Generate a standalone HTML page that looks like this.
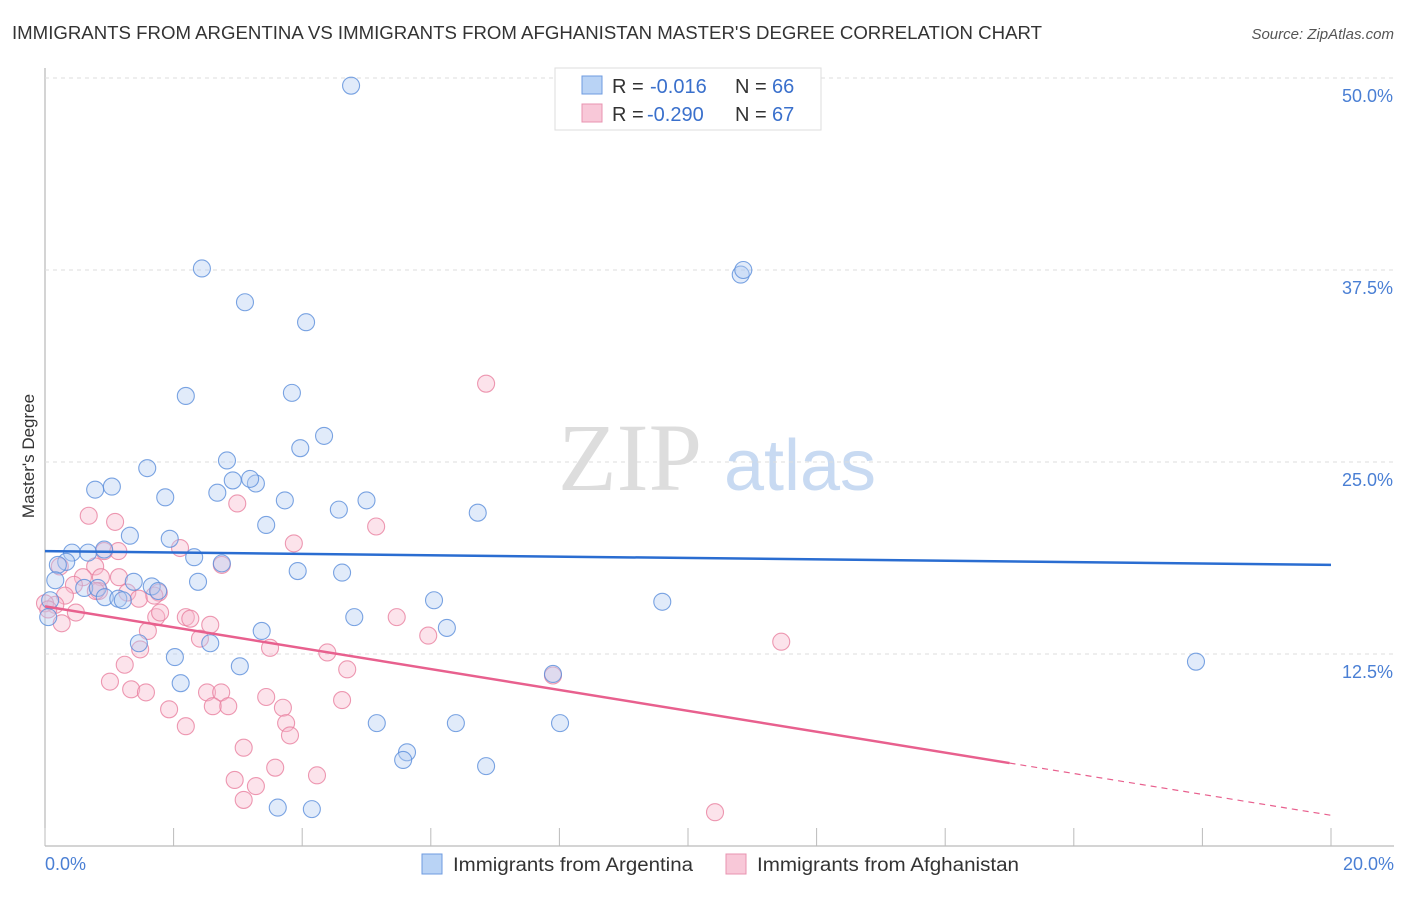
<!DOCTYPE html>
<html><head><meta charset="utf-8"><style>
body{margin:0;background:#fff;font-family:"Liberation Sans",sans-serif}
</style></head><body>
<svg id="c" width="1406" height="892" xmlns="http://www.w3.org/2000/svg" style="font-family:'Liberation Sans',sans-serif">
<text x="12" y="39" font-size="18" fill="#333" textLength="1030" lengthAdjust="spacingAndGlyphs">IMMIGRANTS FROM ARGENTINA VS IMMIGRANTS FROM AFGHANISTAN MASTER'S DEGREE CORRELATION CHART</text>
<text x="1394" y="39" font-size="15" fill="#555" font-style="italic" text-anchor="end">Source: ZipAtlas.com</text>
<text x="630" y="490" font-size="96" fill="#ddd" font-family="Liberation Serif" text-anchor="middle">ZIP</text>
<text x="800" y="490" font-size="72" fill="#c8daf2" text-anchor="middle">atlas</text>
<text x="34" y="456" font-size="17" fill="#333" transform="rotate(-90 34 456)" text-anchor="middle">Master's Degree</text>
<g id="grid"></g><g id="pts"></g><g id="lines"></g>
<g>
<rect x="555" y="68" width="266" height="62" fill="#fff" stroke="#ddd"/>
<rect x="582" y="76" width="20" height="18" fill="#b9d3f5" stroke="#6e9be0"/>
<rect x="582" y="104" width="20" height="18" fill="#f8c8d8" stroke="#e893b0"/>
<text x="612" y="93" font-size="20" fill="#333">R =</text>
<text x="650" y="93" font-size="20" fill="#3a70cc">-0.016</text>
<text x="735" y="93" font-size="20" fill="#333">N =</text>
<text x="772" y="93" font-size="20" fill="#3a70cc">66</text>
<text x="612" y="121" font-size="20" fill="#333">R =</text>
<text x="647" y="121" font-size="20" fill="#3a70cc">-0.290</text>
<text x="735" y="121" font-size="20" fill="#333">N =</text>
<text x="772" y="121" font-size="20" fill="#3a70cc">67</text>
</g>
<g>
<rect x="422" y="854" width="20" height="20" fill="#b9d3f5" stroke="#6e9be0"/>
<text x="453" y="871" font-size="19" fill="#333" textLength="240" lengthAdjust="spacingAndGlyphs">Immigrants from Argentina</text>
<rect x="726" y="854" width="20" height="20" fill="#f8c8d8" stroke="#e893b0"/>
<text x="757" y="871" font-size="19" fill="#333" textLength="262" lengthAdjust="spacingAndGlyphs">Immigrants from Afghanistan</text>
</g>
</svg>
<script>
const yTicks=[12.5,25,37.5,50];
const yTickLabels=["12.5%","25.0%","37.5%","50.0%"];
const blueX=[4.76,2.44,3.11,4.06,10.82,10.86,3.84,2.19,4.34,3.97,1.59,2.83,2.92,3.28,3.19,0.78,1.04,1.87,2.68,3.73,4.57,5.0,6.73,3.44,1.32,1.94,0.92,0.42,0.67,0.33,0.2,2.32,2.75,3.93,4.62,0.16,1.38,2.38,1.66,1.76,0.61,0.82,0.93,1.14,1.21,6.05,9.6,4.81,6.25,3.37,1.46,2.57,2.02,3.03,7.9,2.11,17.9,5.16,6.39,8.01,5.63,5.57,6.86,3.62,4.15,0.05,0.08];
const blueY=[49.5,37.6,35.4,34.1,37.2,37.5,29.5,29.3,26.7,25.9,24.6,25.1,23.8,23.6,23.9,23.2,23.4,22.7,23.0,22.5,21.9,22.5,21.7,20.9,20.2,20.0,19.3,19.1,19.1,18.5,18.3,18.8,18.4,17.9,17.8,17.3,17.2,17.2,16.9,16.6,16.8,16.8,16.2,16.1,16.0,16.0,15.9,14.9,14.2,14.0,13.2,13.2,12.3,11.7,11.2,10.6,12.0,8.0,8.0,8.0,6.1,5.6,5.2,2.5,2.4,14.9,16.0];
const pinkX=[6.86,2.99,0.68,1.09,5.15,3.87,2.1,0.92,1.14,0.23,0.78,0.87,1.15,0.59,0.45,2.75,1.28,1.46,1.77,1.7,0.84,0.31,0.16,0.0,0.48,0.26,1.6,2.19,2.26,2.57,2.41,1.73,1.48,3.5,4.39,5.47,5.96,11.45,4.7,1.24,1.01,1.34,1.57,2.52,2.74,3.44,1.93,2.19,2.61,2.85,4.62,3.7,3.75,3.81,3.09,2.95,3.28,3.58,4.23,3.09,10.42,7.9,0.05,0.79,1.79];
const pinkY=[30.1,22.3,21.5,21.1,20.8,19.7,19.4,19.2,19.2,18.2,18.2,17.5,17.5,17.5,17.0,18.3,16.5,16.1,16.5,16.3,16.6,16.3,15.7,15.8,15.2,14.5,14.0,14.9,14.8,14.4,13.5,14.9,12.8,12.9,12.6,14.9,13.7,13.3,11.5,11.8,10.7,10.2,10.0,10.0,10.0,9.7,8.9,7.8,9.1,9.1,9.5,9.0,8.0,7.2,6.4,4.3,3.9,5.1,4.6,3.0,2.2,11.1,15.4,16.6,15.2];
const X=v=>45+v*64.3, Y=v=>846-v*15.36;
const ns="http://www.w3.org/2000/svg";
function mk(p,t,a){const e=document.createElementNS(ns,t);for(const k in a)e.setAttribute(k,a[k]);p.appendChild(e);return e;}
const g=document.getElementById('grid');
mk(g,'line',{x1:45,y1:68,x2:45,y2:846,stroke:'#aaa'});
mk(g,'line',{x1:45,y1:846,x2:1394,y2:846,stroke:'#aaa'});
for(let i=0;i<=10;i++){mk(g,'line',{x1:X(i*2),x2:X(i*2),y1:828,y2:846,stroke:'#bbb'});}
yTicks.forEach((t,i)=>{
 const l=mk(g,'line',{x1:45,x2:1394,y1:Y(t),y2:Y(t),stroke:'#ddd','stroke-dasharray':'4,4'});
 
 
 const tx=mk(g,'text',{x:1393,y:Y(t)+24,'font-size':18,fill:'#4a7fd4','text-anchor':'end'});
 tx.textContent=yTickLabels[i];
 
 
});
const x0=mk(g,'text',{x:45,y:870,'font-size':18,fill:'#4a7fd4'});x0.textContent='0.0%';


const x1=mk(g,'text',{x:1394,y:870,'font-size':18,fill:'#4a7fd4','text-anchor':'end'});x1.textContent='20.0%';


const p=document.getElementById('pts');
function draw(xs,ys,fill,stroke,name){xs.forEach((x,i)=>{const c=mk(p,'circle',{cx:X(x),cy:Y(ys[i]),r:8.5,fill:fill,'fill-opacity':0.4,stroke:stroke,'stroke-width':1.1,'stroke-opacity':0.8});
 
 });}
draw(pinkX,pinkY,'#f7b8cc','#e8809f','point-afghanistan');
draw(blueX,blueY,'#b3cdf2','#5a8ddb','point-argentina');
const L=document.getElementById('lines');
const bl=mk(L,'line',{x1:X(0),y1:Y(19.2),x2:X(20),y2:Y(18.3),stroke:'#2a6dd1','stroke-width':2.5});


const pl=mk(L,'line',{x1:X(0),y1:Y(15.6),x2:X(15),y2:Y(5.4),stroke:'#e8608e','stroke-width':2.5});


const pd=mk(L,'line',{x1:X(15),y1:Y(5.4),x2:X(20),y2:Y(2.0),stroke:'#e8608e','stroke-width':1.2,'stroke-dasharray':'6,5'});


</script>
</body></html>
